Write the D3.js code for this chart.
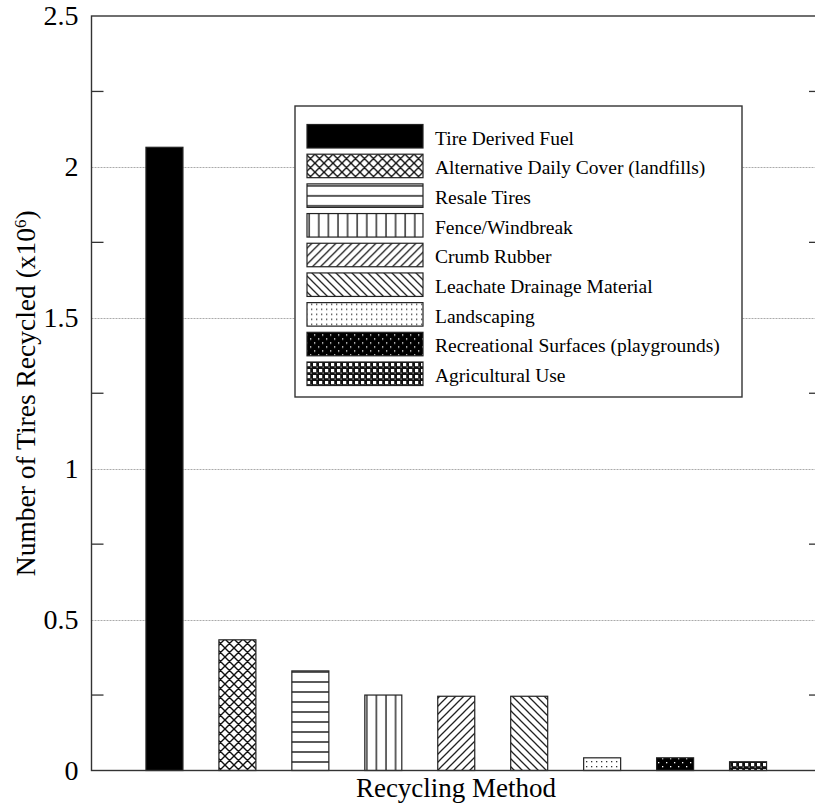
<!DOCTYPE html>
<html>
<head>
<meta charset="utf-8">
<script src="https://cdn.jsdelivr.net/npm/d3@7"></script>
<style>
  html, body { margin: 0; padding: 0; background: #fff; }
  svg { display: block; }
  text { font-family: "Liberation Serif", "Times New Roman", serif; fill: #000; }
</style>
</head>
<body>
<svg id="chart" width="815" height="805"></svg>
<script>
// ---- Data ----
const categories = [
  "Tire Derived Fuel",
  "Alternative Daily Cover (landfills)",
  "Resale Tires",
  "Fence/Windbreak",
  "Crumb Rubber",
  "Leachate Drainage Material",
  "Landscaping",
  "Recreational Surfaces (playgrounds)",
  "Agricultural Use"
];
const values = [2.065, 0.433, 0.33, 0.25, 0.246, 0.246, 0.042, 0.042, 0.029];
const patterns = ["solid", "cross", "horiz", "vert", "fwd", "back", "dots", "blackdots", "checker"];
const yTickLabels = [0, 0.5, 1, 1.5, 2, 2.5];
const yMinorTicks = [0.25, 0.75, 1.25, 1.75, 2.25];
const gridValues = [0.5, 1, 1.5, 2];
const xTitle = "Recycling Method";

(function () {
// ---- Layout ----
const svg = d3.select("#chart");
const pL = 91.5, pR = 821, pT = 16, pB = 770.5;
const x = d3.scaleLinear().domain([0, categories.length + 1]).range([pL, pR]);
const y = d3.scaleLinear().domain([0, 2.5]).range([pB, pT]);
const barW = 37;
const ink = "#222";

// ---- Patterns ----
const defs = svg.append("defs");
function pat(id, w, h) {
  return defs.append("pattern").attr("id", id).attr("patternUnits", "userSpaceOnUse")
    .attr("width", w).attr("height", h);
}
let p = pat("p-cross", 9, 9);
p.append("rect").attr("width", 9).attr("height", 9).attr("fill", "#fff");
p.append("path").attr("d", "M0,0L9,9M9,0L0,9M-4.5,4.5L4.5,13.5M4.5,-4.5L13.5,4.5M4.5,-4.5L-4.5,4.5M13.5,4.5L4.5,13.5")
  .attr("stroke", "#111").attr("stroke-width", 1.4);
p = pat("p-horiz", 10, 10);
p.append("rect").attr("width", 10).attr("height", 10).attr("fill", "#fff");
p.append("line").attr("x1", 0).attr("x2", 10).attr("y1", 2).attr("y2", 2).attr("stroke", "#222").attr("stroke-width", 1.5);
p = pat("p-vert", 9.6, 10);
p.append("rect").attr("width", 9.6).attr("height", 10).attr("fill", "#fff");
p.append("line").attr("x1", 2).attr("x2", 2).attr("y1", 0).attr("y2", 10).attr("stroke", "#222").attr("stroke-width", 1.4);
p = pat("p-fwd", 8, 8);
p.append("rect").attr("width", 8).attr("height", 8).attr("fill", "#fff");
p.append("path").attr("d", "M0,8L8,0M-2,2L2,-2M6,10L10,6").attr("stroke", "#222").attr("stroke-width", 1.3);
p = pat("p-back", 8, 8);
p.append("rect").attr("width", 8).attr("height", 8).attr("fill", "#fff");
p.append("path").attr("d", "M0,0L8,8M-2,6L2,10M6,-2L10,2").attr("stroke", "#222").attr("stroke-width", 1.3);
p = pat("p-dots", 5, 5);
p.append("rect").attr("width", 5).attr("height", 5).attr("fill", "#fff");
p.append("rect").attr("x", 1).attr("y", 1).attr("width", 1.3).attr("height", 1.3).attr("fill", "#333");
p = pat("p-blackdots", 8, 8);
p.append("rect").attr("width", 8).attr("height", 8).attr("fill", "#000");
p.append("rect").attr("x", 2).attr("y", 2).attr("width", 1.3).attr("height", 1.3).attr("fill", "#fff");
p.append("rect").attr("x", 6).attr("y", 6).attr("width", 1.3).attr("height", 1.3).attr("fill", "#fff");
p = pat("p-checker", 6, 6);
p.append("rect").attr("width", 6).attr("height", 6).attr("fill", "#111");
p.append("rect").attr("x", 1).attr("y", 1).attr("width", 3.2).attr("height", 3.2).attr("fill", "#fff");
p.append("rect").attr("x", 4.6).attr("y", 4.6).attr("width", 1).attr("height", 1).attr("fill", "#fff");

function fillFor(k) { return k === "solid" ? "#000" : "url(#p-" + k + ")"; }

// ---- Gridlines ----
svg.append("g").selectAll("line").data(gridValues).join("line")
  .attr("x1", pL).attr("x2", pR)
  .attr("y1", d => Math.round(y(d)) + 0.5).attr("y2", d => Math.round(y(d)) + 0.5)
  .attr("stroke", "#aaa").attr("stroke-width", 1).attr("stroke-dasharray", "2,1");

// ---- Bars ----
svg.append("g").selectAll("rect").data(values).join("rect")
  .attr("x", (d, i) => x(i + 1) - barW / 2)
  .attr("width", barW)
  .attr("y", d => y(d))
  .attr("height", d => y(0) - y(d))
  .attr("fill", (d, i) => fillFor(patterns[i]))
  .attr("stroke", ink).attr("stroke-width", 1.2);

// ---- Frame ----
svg.append("rect").attr("x", pL).attr("y", pT).attr("width", pR - pL).attr("height", pB - pT)
  .attr("fill", "none").attr("stroke", "#333").attr("stroke-width", 1.4);

svg.append("g").selectAll("line").data(yMinorTicks).join("line")
  .attr("x1", pL).attr("x2", pL + 12)
  .attr("y1", d => y(d)).attr("y2", d => y(d))
  .attr("stroke", "#333").attr("stroke-width", 1.3);
svg.append("g").selectAll("line").data(yMinorTicks).join("line")
  .attr("x1", pR - 12).attr("x2", pR)
  .attr("y1", d => y(d)).attr("y2", d => y(d))
  .attr("stroke", "#333").attr("stroke-width", 1.3);

const yAxis = d3.axisLeft(y).tickValues(yTickLabels).tickSize(0).tickPadding(13)
  .tickFormat(d => d3.format("")(d));
const ya = svg.append("g").attr("transform", `translate(${pL},0)`).call(yAxis);
ya.select(".domain").remove();
ya.selectAll("text").attr("font-family", "Liberation Serif, serif").attr("font-size", 28).attr("fill", "#000");

const yt = svg.append("text")
  .attr("transform", `translate(35,${(pT + pB) / 2}) rotate(-90)`)
  .attr("text-anchor", "middle").attr("font-size", 27.5);
yt.append("tspan").text("Number of Tires Recycled (x10");
yt.append("tspan").attr("baseline-shift", "super").attr("font-size", 17).text("6");
yt.append("tspan").text(")");

svg.append("text")
  .attr("x", 456).attr("y", 797)
  .attr("text-anchor", "middle").attr("font-size", 27)
  .text(xTitle);

// ---- Legend ----
const lg = svg.append("g");
lg.append("rect").attr("x", 295).attr("y", 106).attr("width", 447).attr("height", 291)
  .attr("fill", "#fff").attr("stroke", "#333").attr("stroke-width", 1.4);
const rowY = d3.scaleLinear().domain([0, 8]).range([124.5, 362]);
const rows = lg.selectAll("g.row").data(categories).join("g").attr("class", "row")
  .attr("transform", (d, i) => `translate(0,${rowY(i)})`);
rows.append("rect").attr("x", 307).attr("y", 0).attr("width", 116).attr("height", 23.5)
  .attr("fill", (d, i) => fillFor(patterns[i]))
  .attr("stroke", ink).attr("stroke-width", 1.2);
rows.append("text").attr("x", 435).attr("y", 20).attr("font-size", 19.5).text(d => d);
})();
</script>
</body>
</html>
